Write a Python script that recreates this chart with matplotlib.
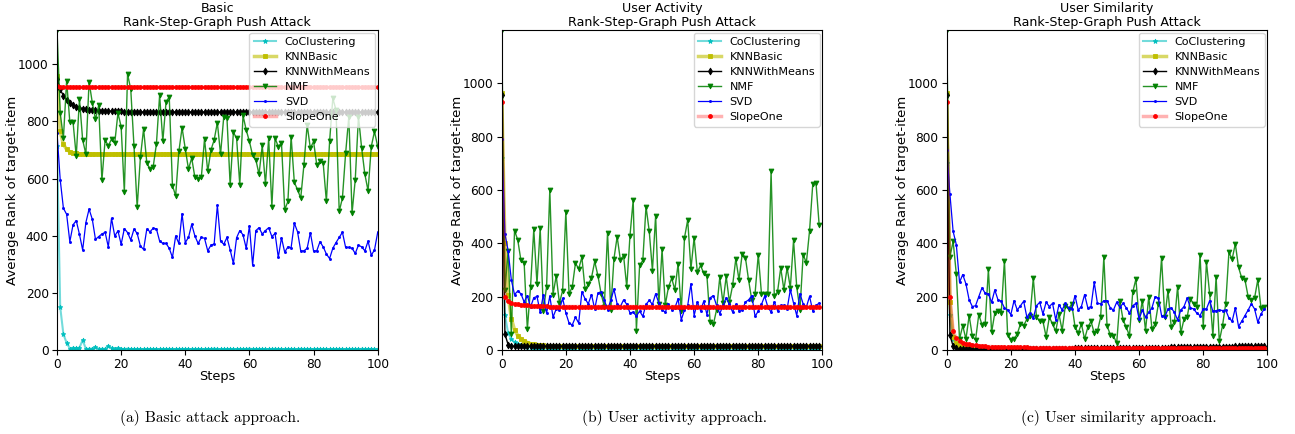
import matplotlib
matplotlib.use("Agg")
import matplotlib.pyplot as plt
from matplotlib.colors import to_rgba

# ---------------- data ----------------
steps_basic = list(range(101))
steps_other = list(range(100))

names = ["CoClustering", "KNNBasic", "KNNWithMeans", "NMF", "SVD", "SlopeOne"]

# Panel (a) Basic
basic_coclustering = [715, 150, 55, 25, 5, 8, 6, 8, 35, 4,
                      4, 5, 10, 4, 4, 4, 15, 7, 4, 8,
                      4, 3, 5, 3, 3, 3, 3, 3, 3, 3,
                      3, 3, 3, 3, 3, 3, 3, 3, 3, 3,
                      3, 3, 3, 3, 3, 3, 3, 3, 3, 5,
                      3, 3, 3, 3, 3, 3, 3, 3, 3, 3,
                      5, 3, 3, 3, 3, 3, 3, 3, 4, 3,
                      3, 3, 3, 3, 3, 3, 4, 3, 3, 3,
                      3, 3, 3, 3, 3, 3, 3, 3, 3, 3,
                      3, 3, 3, 3, 3, 4, 3, 3, 3, 3, 3]
basic_knnbasic = [960, 765, 720, 702, 694, 690, 688, 687, 686, 686,
                  685, 685, 685, 685, 685, 685, 685, 685, 685, 685,
                  685, 685, 685, 685, 685, 685, 685, 685, 685, 685,
                  685, 685, 685, 685, 685, 685, 685, 685, 685, 685,
                  685, 685, 685, 685, 685, 685, 685, 685, 685, 685,
                  685, 685, 685, 685, 685, 685, 685, 685, 685, 685,
                  685, 685, 685, 685, 685, 685, 685, 685, 685, 685,
                  685, 685, 685, 685, 685, 685, 685, 685, 685, 685,
                  685, 685, 685, 685, 685, 685, 685, 685, 685, 685,
                  685, 685, 685, 685, 685, 685, 685, 685, 685, 685, 685]
basic_knnwithmeans = [950, 912, 890, 876, 866, 858, 852, 848, 845, 843,
                      841, 840, 839, 838, 837, 837, 836, 836, 835, 835,
                      835, 834, 834, 834, 834, 834, 833, 833, 833, 833,
                      833, 833, 833, 833, 833, 833, 833, 833, 833, 833,
                      833, 833, 833, 833, 833, 833, 833, 833, 833, 833,
                      833, 833, 833, 833, 833, 833, 833, 833, 833, 833,
                      833, 833, 833, 833, 833, 833, 833, 833, 833, 833,
                      833, 833, 833, 833, 833, 833, 833, 833, 833, 833,
                      833, 833, 833, 833, 833, 833, 833, 833, 833, 833,
                      833, 833, 833, 833, 833, 833, 833, 833, 833, 833, 833]
basic_nmf = [1120, 829, 742, 942, 798, 798, 678, 879, 735, 686,
             939, 866, 807, 856, 594, 735, 715, 738, 724, 829,
             782, 552, 966, 912, 715, 499, 674, 774, 656, 633,
             642, 721, 892, 731, 868, 886, 575, 540, 695, 778,
             704, 633, 672, 604, 598, 604, 739, 625, 700, 735,
             796, 685, 817, 811, 576, 762, 741, 578, 821, 770,
             730, 681, 666, 615, 716, 580, 741, 502, 741, 712,
             724, 491, 520, 747, 587, 561, 532, 648, 788, 706,
             730, 648, 660, 654, 520, 730, 881, 840, 485, 532,
             689, 817, 479, 596, 817, 706, 615, 557, 712, 765, 712]
basic_svd = [760, 596, 496, 475, 379, 438, 453, 405, 350, 446,
             493, 458, 387, 397, 406, 412, 361, 461, 399, 417,
             370, 425, 411, 385, 423, 408, 364, 352, 423, 414,
             426, 424, 381, 373, 373, 356, 324, 399, 373, 477,
             376, 394, 440, 399, 373, 394, 391, 347, 367, 371,
             506, 381, 370, 394, 350, 303, 393, 418, 403, 356,
             434, 297, 418, 428, 406, 418, 428, 397, 408, 324,
             393, 342, 361, 358, 444, 414, 347, 347, 356, 411,
             347, 347, 379, 361, 336, 320, 356, 376, 394, 412,
             359, 359, 356, 338, 367, 361, 347, 381, 332, 350, 412]
basic_slopeone = [925, 920, 920, 920, 920, 920, 920, 920, 920, 920,
                  920, 920, 920, 920, 920, 920, 920, 920, 920, 920,
                  920, 920, 920, 920, 920, 920, 920, 920, 920, 920,
                  920, 920, 920, 920, 920, 920, 920, 920, 920, 920,
                  920, 920, 920, 920, 920, 920, 920, 920, 920, 920,
                  920, 920, 920, 920, 920, 920, 920, 920, 920, 920,
                  920, 920, 920, 920, 920, 920, 920, 920, 920, 920,
                  920, 920, 920, 920, 920, 920, 920, 920, 920, 920,
                  920, 920, 920, 920, 920, 920, 920, 920, 920, 920,
                  920, 920, 920, 920, 920, 920, 920, 920, 920, 920, 920]

# Panel (b) User Activity
act_coclustering = [720, 133, 63, 42, 29, 24, 18, 14, 12, 10,
                    9, 8, 7, 7, 6, 6, 6, 6, 6, 6,
                    6, 6, 6, 6, 6, 6, 6, 6, 6, 6,
                    6, 6, 6, 6, 6, 6, 6, 6, 6, 6,
                    6, 6, 6, 6, 6, 6, 6, 6, 6, 6,
                    6, 6, 6, 6, 6, 6, 6, 6, 6, 6,
                    6, 6, 6, 6, 6, 6, 6, 6, 6, 6,
                    6, 6, 6, 6, 6, 6, 6, 6, 6, 6,
                    6, 6, 6, 6, 6, 6, 6, 6, 6, 6,
                    6, 6, 6, 6, 6, 6, 6, 6, 6, 6]
act_knnbasic = [963, 400, 205, 118, 76, 54, 42, 34, 28, 24,
                21, 19, 18, 17, 16, 16, 15, 15, 15, 15,
                15, 15, 15, 15, 15, 15, 15, 15, 15, 15,
                15, 15, 15, 15, 15, 15, 15, 15, 15, 15,
                15, 15, 15, 15, 15, 15, 15, 15, 15, 15,
                15, 15, 15, 15, 15, 15, 15, 15, 15, 15,
                15, 15, 15, 15, 15, 15, 15, 15, 15, 15,
                15, 15, 15, 15, 15, 15, 15, 15, 15, 15,
                15, 15, 15, 15, 15, 15, 15, 15, 15, 15,
                15, 15, 15, 15, 15, 15, 15, 15, 15, 15]
act_knnwithmeans = [955, 60, 20, 15, 14, 14, 14, 14, 14, 14,
                    14, 14, 14, 14, 14, 14, 14, 14, 14, 14,
                    14, 14, 14, 14, 14, 14, 14, 14, 14, 14,
                    14, 14, 14, 14, 14, 14, 14, 14, 14, 14,
                    14, 14, 14, 14, 14, 14, 14, 14, 14, 14,
                    14, 14, 14, 14, 14, 14, 14, 14, 14, 14,
                    14, 14, 14, 14, 14, 14, 14, 14, 14, 14,
                    14, 14, 14, 14, 14, 14, 14, 14, 14, 14,
                    14, 14, 14, 14, 14, 14, 14, 14, 14, 14,
                    14, 14, 14, 14, 14, 14, 14, 14, 14, 14]
act_nmf = [1200, 226, 373, 60, 448, 413, 336, 326, 77, 238,
           452, 248, 457, 146, 238, 600, 208, 278, 176, 223,
           519, 211, 236, 326, 304, 348, 227, 246, 271, 332,
           279, 211, 163, 440, 151, 342, 425, 338, 354, 236,
           429, 563, 73, 317, 336, 538, 446, 298, 504, 171,
           377, 169, 236, 269, 226, 323, 146, 421, 488, 304,
           421, 292, 317, 288, 276, 104, 96, 151, 273, 176,
           276, 180, 242, 342, 263, 361, 346, 261, 186, 211,
           358, 211, 211, 211, 670, 204, 217, 308, 226, 308,
           233, 411, 236, 151, 358, 327, 448, 623, 627, 467]
act_svd = [790, 436, 373, 263, 208, 221, 211, 180, 204, 161,
           196, 201, 142, 208, 138, 202, 123, 154, 151, 194,
           139, 101, 94, 123, 101, 218, 192, 173, 208, 154,
           213, 217, 188, 151, 186, 228, 173, 163, 188, 171,
           139, 142, 127, 146, 126, 171, 186, 171, 211, 176,
           151, 142, 171, 151, 158, 192, 113, 151, 167, 248,
           129, 180, 148, 183, 133, 196, 204, 167, 136, 167,
           196, 171, 142, 171, 148, 151, 180, 188, 204, 126,
           146, 171, 202, 161, 142, 180, 148, 167, 167, 154,
           226, 176, 129, 211, 173, 161, 201, 146, 167, 176]
act_slopeone = [930, 200, 183, 177, 173, 171, 169, 168, 167, 166,
                165, 165, 164, 164, 164, 163, 163, 163, 163, 163,
                163, 163, 163, 163, 163, 163, 163, 163, 163, 163,
                163, 163, 163, 163, 163, 163, 163, 163, 163, 163,
                163, 163, 163, 163, 163, 163, 163, 163, 163, 163,
                163, 163, 163, 163, 163, 163, 163, 163, 163, 163,
                163, 163, 163, 163, 163, 163, 163, 163, 163, 163,
                163, 163, 163, 163, 163, 163, 163, 163, 163, 163,
                163, 163, 163, 163, 163, 163, 163, 163, 163, 163,
                163, 163, 163, 163, 163, 163, 163, 163, 163, 163]

# Panel (c) User Similarity
sim_coclustering = [700, 130, 40, 15, 8, 5, 4, 3, 3, 3,
                    3, 3, 3, 3, 3, 3, 3, 3, 3, 3,
                    3, 3, 3, 3, 3, 3, 3, 3, 3, 3,
                    3, 3, 3, 3, 3, 3, 3, 3, 3, 3,
                    3, 3, 3, 3, 3, 3, 3, 3, 3, 3,
                    3, 3, 3, 3, 3, 3, 3, 3, 3, 3,
                    3, 3, 3, 3, 3, 3, 3, 3, 3, 3,
                    3, 3, 3, 3, 3, 3, 3, 3, 3, 3,
                    3, 3, 3, 3, 3, 3, 3, 3, 3, 3,
                    3, 3, 3, 3, 3, 3, 3, 3, 3, 3]
sim_knnbasic = [963, 180, 50, 25, 15, 10, 8, 6, 5, 5,
                4, 4, 4, 4, 4, 4, 4, 4, 4, 4,
                4, 4, 4, 4, 4, 4, 4, 4, 4, 4,
                4, 4, 4, 4, 4, 4, 4, 4, 4, 4,
                4, 4, 4, 4, 4, 4, 4, 4, 4, 4,
                4, 4, 4, 4, 4, 4, 4, 4, 4, 4,
                4, 4, 4, 4, 4, 4, 4, 4, 4, 4,
                4, 4, 4, 4, 4, 4, 4, 4, 4, 4,
                4, 4, 4, 4, 4, 4, 4, 4, 4, 4,
                4, 4, 4, 4, 4, 4, 4, 4, 4, 4]
sim_knnwithmeans = [955, 55, 15, 6, 4, 3, 3, 3, 3, 3,
                    3, 3, 3, 3, 3, 3, 3, 3, 3, 3,
                    4, 4, 4, 4, 4, 4, 4, 4, 4, 4,
                    5, 5, 5, 5, 5, 5, 5, 5, 5, 5,
                    6, 6, 6, 6, 6, 6, 6, 6, 6, 6,
                    7, 7, 7, 7, 7, 7, 7, 7, 7, 7,
                    9, 9, 9, 9, 9, 9, 9, 9, 9, 9,
                    11, 11, 11, 11, 11, 11, 11, 11, 11, 11,
                    13, 13, 13, 13, 13, 13, 13, 13, 13, 13,
                    15, 15, 15, 15, 15, 15, 15, 15, 15, 15]
sim_nmf = [1200, 348, 408, 285, 41, 91, 41, 129, 51, 38,
           133, 95, 98, 303, 66, 139, 148, 138, 335, 58,
           38, 41, 60, 98, 91, 116, 129, 270, 123, 108,
           108, 50, 123, 98, 70, 135, 73, 166, 154, 173,
           88, 63, 98, 41, 85, 108, 63, 70, 123, 348,
           91, 58, 54, 25, 183, 113, 85, 54, 216, 266,
           113, 185, 73, 200, 79, 98, 173, 345, 123, 223,
           88, 104, 238, 63, 116, 125, 191, 173, 160, 358,
           88, 329, 210, 54, 275, 33, 91, 173, 366, 341,
           398, 310, 270, 263, 200, 188, 195, 263, 158, 160]
sim_svd = [750, 585, 445, 395, 254, 283, 248, 188, 163, 166,
           200, 233, 213, 210, 179, 225, 188, 183, 158, 150,
           133, 185, 150, 166, 183, 123, 138, 120, 166, 179,
           135, 179, 163, 175, 113, 170, 150, 175, 158, 154,
           204, 150, 163, 208, 158, 163, 254, 175, 173, 185,
           185, 158, 150, 179, 160, 175, 158, 138, 166, 175,
           116, 150, 123, 141, 158, 200, 195, 129, 123, 154,
           158, 141, 113, 150, 163, 195, 158, 154, 138, 129,
           154, 154, 185, 145, 148, 150, 148, 150, 120, 108,
           158, 88, 108, 129, 150, 173, 154, 104, 135, 154]
sim_slopeone = [930, 200, 70, 45, 35, 28, 24, 21, 19, 17,
                16, 15, 14, 13, 13, 12, 12, 11, 11, 11,
                10, 10, 10, 10, 10, 10, 9, 9, 9, 9,
                9, 9, 9, 9, 9, 9, 9, 9, 9, 9,
                9, 9, 9, 9, 9, 8, 8, 8, 8, 8,
                8, 8, 8, 8, 8, 8, 8, 8, 8, 8,
                8, 8, 8, 8, 8, 8, 8, 8, 8, 8,
                8, 8, 8, 8, 8, 8, 8, 8, 8, 8,
                8, 8, 8, 8, 8, 8, 8, 8, 8, 8,
                8, 8, 8, 8, 8, 8, 8, 8, 8, 8]

titles = ["Basic\nRank-Step-Graph Push Attack",
          "User Activity\nRank-Step-Graph Push Attack",
          "User Similarity\nRank-Step-Graph Push Attack"]
captions = ["(a) Basic attack approach.",
            "(b) User activity approach.",
            "(c) User similarity approach."]
xticks = [0, 20, 40, 60, 80, 100]
yticks = [0, 200, 400, 600, 800, 1000]

panels = [
    (steps_basic, [basic_coclustering, basic_knnbasic, basic_knnwithmeans,
                   basic_nmf, basic_svd, basic_slopeone], 1120),
    (steps_other, [act_coclustering, act_knnbasic, act_knnwithmeans,
                   act_nmf, act_svd, act_slopeone], 1200),
    (steps_other, [sim_coclustering, sim_knnbasic, sim_knnwithmeans,
                   sim_nmf, sim_svd, sim_slopeone], 1200),
]

# ---------------- styles ----------------
styles = {
    "CoClustering": dict(c="c", marker="*", ms=3.5, lw=1.5, la=0.55),
    "KNNBasic":     dict(c="y", marker="s", ms=3.0, lw=2.5, la=0.6),
    "KNNWithMeans": dict(c="k", marker="d", ms=3.5, lw=1.0, la=1.0),
    "NMF":          dict(c="g", marker="v", ms=3.5, lw=1.0, la=0.85),
    "SVD":          dict(c="b", marker=".", ms=3.0, lw=0.9, la=1.0),
    "SlopeOne":     dict(c="r", marker="o", ms=2.8, lw=2.5, la=0.3),
}

fig = plt.figure(figsize=(12.95, 4.34), dpi=100)
lefts = [57.0, 501.7, 946.7]
cap_x = [210, 674, 1119]
ax_w = 320.7
for i, (steps, series, ytop) in enumerate(panels):
    ax = fig.add_axes([lefts[i] / 1295, 1 - 350 / 434, ax_w / 1295, 320 / 434])
    for name, vals in zip(names, series):
        st = styles[name]
        ax.plot(steps, vals, color=to_rgba(st["c"], st["la"]), lw=st["lw"],
                marker=st["marker"], ms=st["ms"], mfc=st["c"], mec=st["c"],
                mew=0.6, label=name)
    ax.set_xlim(0, 100)
    ax.set_ylim(0, ytop)
    ax.set_xticks(xticks)
    ax.set_yticks(yticks)
    ax.tick_params(labelsize=8.7, pad=2.5)
    ax.set_xlabel("Steps", fontsize=9.3, labelpad=-1)
    ax.set_ylabel("Average Rank of target-item", fontsize=9.5, labelpad=-1)
    ax.set_title(titles[i], fontsize=9.1, pad=3, linespacing=1.05)
    ax.legend(loc="upper right", fontsize=8, handlelength=2.0,
              borderpad=0.4, labelspacing=0.45, borderaxespad=0.25)
    fig.text(cap_x[i] / 1295, 1 - 418 / 434, captions[i],
             ha="center", va="center", fontsize=11.2, family="cmr10")

fig.savefig("out.png", dpi=100)
